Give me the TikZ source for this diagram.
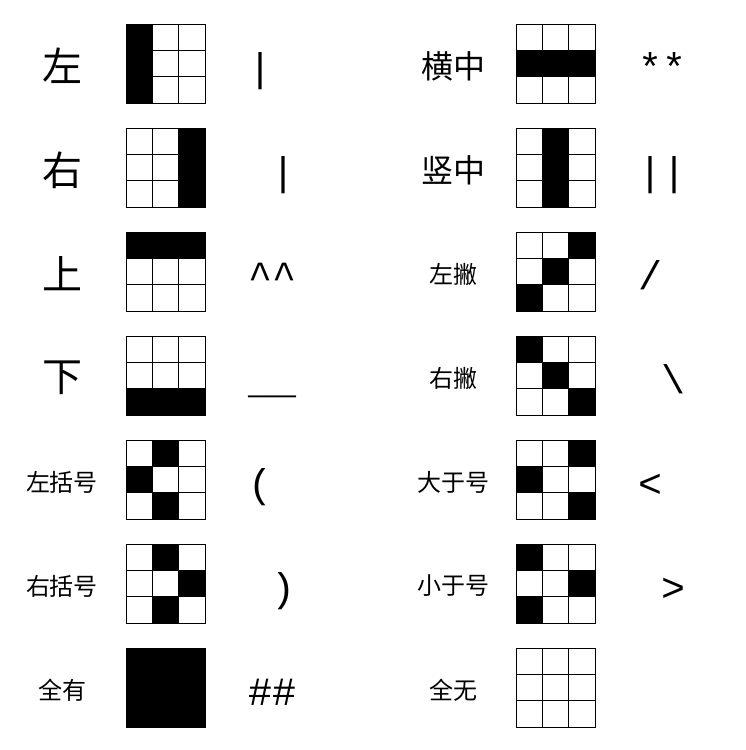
\documentclass[tikz,border=0pt]{standalone}
\usepackage{fontspec}
\newfontfamily\cjk{Noto Sans CJK SC}
\newfontfamily\symfont{Liberation Mono}
\usetikzlibrary{positioning}

% one 3x3 grid: name, centre x, centre y, black cells (row/col)
\newcommand{\patgrid}[4]{%
  \node[gridbox] (#1) at (#2,#3) {};
  \foreach \r/\c in {#4}
    \fill ([xshift=26*\c pt, yshift=-26*\r pt]#1.north west) rectangle +(26,26);
  \foreach \k in {1,2} {
    \draw[gridline] ([xshift=26*\k pt]#1.north west) -- ([xshift=26*\k pt]#1.south west);
    \draw[gridline] ([yshift=-26*\k pt]#1.north west) -- ([yshift=-26*\k pt]#1.north east);
  }
  \draw[gridline] (#1.north west) rectangle (#1.south east);
}

\begin{document}
\begin{tikzpicture}[
  x=1pt, y=-1pt,
  biglbl/.style={font=\cjk\fontsize{40}{40}\selectfont, inner sep=0pt},
  midlbl/.style={font=\cjk\fontsize{32}{32}\selectfont, inner sep=0pt},
  smalllbl/.style={font=\cjk\fontsize{24}{24}\selectfont, inner sep=0pt},
  gridbox/.style={rectangle, minimum size=78pt, inner sep=0pt},
  gridline/.style={line width=1.2pt},
  sym/.style={font=\symfont\fontsize{40}{40}\selectfont, anchor=base west, inner sep=0pt}
]
  \useasboundingbox (0,0) rectangle (745,750);

  % left column
  \node[biglbl] (zuo) at (62,66) {左};
  \patgrid{g-zuo}{166}{64}{0/0,1/0,2/0}
  \node[sym] (s-zuo) at (248,81) {|};

  \node[biglbl] (you) at (62,170) {右};
  \patgrid{g-you}{166}{168}{0/2,1/2,2/2}
  \node[sym] (s-you) at (271,185) {|};

  \node[biglbl] (shang) at (62,274) {上};
  \patgrid{g-shang}{166}{272}{0/0,0/1,0/2}
  \node[sym] (s-shang) at (248,289) {\textasciicircum\textasciicircum};

  \node[biglbl] (xia) at (62,378) {下};
  \patgrid{g-xia}{166}{376}{2/0,2/1,2/2}
  \node[sym] (s-xia) at (248,393) {\textunderscore\textunderscore};

  \node[smalllbl] (zkh) at (62,482) {左括号};
  \patgrid{g-zkh}{166}{480}{0/1,1/0,2/1}
  \node[sym] (s-zkh) at (248,497) {(};

  \node[smalllbl] (ykh) at (62,586) {右括号};
  \patgrid{g-ykh}{166}{584}{0/1,1/2,2/1}
  \node[sym] (s-ykh) at (271,601) {)};

  \node[smalllbl] (quanyou) at (62,690) {全有};
  \patgrid{g-quanyou}{166}{688}{0/0,0/1,0/2,1/0,1/1,1/2,2/0,2/1,2/2}
  \node[sym] (s-quanyou) at (248,705) {\#\#};

  % right column
  \node[midlbl] (hengzhong) at (453,66) {横中};
  \patgrid{g-hengzhong}{556}{64}{1/0,1/1,1/2}
  \node[sym] (s-hengzhong) at (638,81) {**};

  \node[midlbl] (shuzhong) at (453,170) {竖中};
  \patgrid{g-shuzhong}{556}{168}{0/1,1/1,2/1}
  \node[sym] (s-shuzhong) at (638,185) {||};

  \node[smalllbl] (zuopie) at (453,274) {左撇};
  \patgrid{g-zuopie}{556}{272}{0/2,1/1,2/0}
  \node[sym] (s-zuopie) at (638,289) {/};

  \node[smalllbl] (youpie) at (453,378) {右撇};
  \patgrid{g-youpie}{556}{376}{0/0,1/1,2/2}
  \node[sym] (s-youpie) at (661,393) {\textbackslash};

  \node[smalllbl] (dayu) at (453,482) {大于号};
  \patgrid{g-dayu}{556}{480}{0/2,1/0,2/2}
  \node[sym] (s-dayu) at (638,497) {<};

  \node[smalllbl] (xiaoyu) at (453,586) {小于号};
  \patgrid{g-xiaoyu}{556}{584}{0/0,1/2,2/0}
  \node[sym] (s-xiaoyu) at (661,601) {>};

  \node[smalllbl] (quanwu) at (453,690) {全无};
  \patgrid{g-quanwu}{556}{688}{}
\end{tikzpicture}
\end{document}
